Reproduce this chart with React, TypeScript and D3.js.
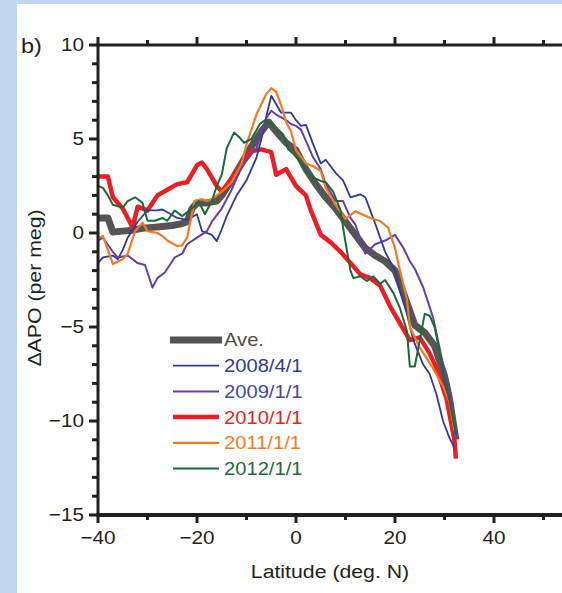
import * as React from "react";
import * as d3 from "d3";

// latitude (deg N), delta APO (per meg)
const ave: [number, number][] = [
  [-40, 0.8], [-38, 0.8], [-37, 0.05], [-35, 0.1], [-33, 0.15], [-31, 0.25], [-29, 0.3],
  [-27, 0.35], [-25, 0.4], [-23, 0.5], [-22, 0.6], [-21, 1.3], [-20, 1.6], [-18, 1.6],
  [-16, 1.7], [-15, 2.0], [-13, 2.8], [-11, 3.7], [-9, 4.6], [-7, 5.4], [-5.5, 5.9],
  [-4, 5.4], [-2, 4.8], [0, 4.4], [2, 3.4], [4, 2.6], [6, 1.9], [8, 1.3], [10, 0.6],
  [12, -0.1], [14, -0.8], [16, -1.2], [18, -1.5], [20, -2.0], [22, -3.4], [24, -4.9],
  [26, -5.3], [28, -6.0], [30, -7.6], [31, -8.8], [32.3, -11.0],
];

const y2008: [number, number][] = [
  [-40, -1.6], [-39, -1.3], [-37, -1.2], [-36, -1.4], [-35, -0.9], [-34, -0.25], [-32, 0.6],
  [-30, 1.2], [-28, 1.2], [-27, 1.25], [-26, 1.1], [-24, 0.8], [-22, 0.7], [-20, 1.0],
  [-19, 0.1], [-17, -0.1], [-16, -0.43], [-15, 0.2], [-14, 0.9], [-12, 2.0], [-10, 2.8],
  [-8, 4.0], [-7, 5.0], [-6, 6.2], [-5, 7.3], [-4, 6.85], [-3, 6.4], [-1, 6.4], [0, 6.0],
  [1, 5.7], [2, 5.75], [3.5, 4.7], [5, 3.7], [6, 3.9], [8, 3.2], [9.5, 2.8], [11, 1.9],
  [13, 2.06], [14, 1.9], [15, 1.2], [16, 0.5], [18, -1.0], [20, -2.0], [21, -3.1],
  [22.4, -4.3], [23.7, -5.7], [25.7, -7.0], [27, -7.5], [28.4, -8.6], [29.7, -10.0],
  [31, -10.9], [32, -11.4],
];

const y2009: [number, number][] = [
  [-40, -0.4], [-39, -0.25], [-37, -1.0], [-36, -1.3], [-34, -1.2], [-32, -1.6], [-30.5, -1.7],
  [-29, -2.9], [-28, -2.4], [-26.5, -2.1], [-24.5, -1.3], [-23, -1.1], [-22, -0.6],
  [-20, -0.25], [-19, -0.07], [-18, 0.1], [-17, 0.6], [-15, 1.3], [-13, 2.3], [-11, 3.5],
  [-9, 4.2], [-8, 4.5], [-6, 6.1], [-5, 6.5], [-4, 6.3], [-2, 6.0], [-1, 5.8], [0, 5.7],
  [1, 5.5], [2, 4.9], [3.5, 4.0], [5, 3.4], [6, 2.6], [8, 1.7], [9.5, 1.7], [11, 0.8],
  [12, 0.45], [14, -1.1], [16, -0.6], [18, -0.4], [20, -0.1], [21.7, -0.8], [23, -1.5],
  [24, -1.9], [25.7, -2.9], [27.7, -4.5], [29, -6.1], [30.4, -7.9], [31.5, -8.9], [32, -10.9],
];

const y2010: [number, number][] = [
  [-40, 3.0], [-38, 3.0], [-37, 1.9], [-35, 1.3], [-33, 0.3], [-32, 1.4], [-30, 1.2],
  [-28, 2.0], [-26, 2.3], [-24, 2.6], [-22, 2.7], [-20, 3.6], [-19, 3.75], [-18, 3.4],
  [-16, 2.5], [-15, 2.2], [-13, 2.9], [-11, 3.7], [-9, 4.35], [-7, 4.45], [-5, 4.3],
  [-4, 3.1], [-2, 3.4], [0, 2.5], [2, 2.0], [3, 1.2], [5, -0.1], [7, -0.5], [9, -1.0],
  [11, -1.6], [13, -2.2], [15, -2.4], [17, -2.8], [19, -3.9], [21, -4.8], [23, -5.7],
  [25, -5.55], [27, -6.4], [28.4, -7.2], [30.4, -8.8], [32, -11.0], [32.3, -12.0],
];

const y2011: [number, number][] = [
  [-40, -0.3], [-39, -0.16], [-37, -1.65], [-35, -1.4], [-34, -1.1], [-32.5, 0.1], [-31, 0.55],
  [-30, 0.1], [-28, 0.0], [-27, -0.16], [-26, -0.4], [-24, -0.7], [-23, -0.65], [-22, -0.25],
  [-20.5, 1.7], [-19, 1.8], [-18, 1.7], [-17, 1.8], [-15, 2.2], [-13, 2.7], [-11, 3.7],
  [-10, 4.7], [-8, 6.3], [-6, 7.4], [-5, 7.7], [-4, 7.5], [-3, 6.8], [-2, 5.9], [-1, 5.4],
  [0, 4.4], [2, 3.7], [3.5, 3.55], [5, 3.3], [6, 2.4], [8, 1.5], [10, 0.75], [12, 1.15],
  [15, 0.8], [17, 0.64], [18.6, 0.28], [20, -0.8], [21, -2.0], [22.4, -3.5], [23, -5.0],
  [25, -6.1], [27.7, -7.2], [29.8, -8.2], [31, -9.0], [32, -10.5],
];

const y2012: [number, number][] = [
  [-40, 2.5], [-39, 2.4], [-38, 2.0], [-37, 1.5], [-35, 1.35], [-34, 1.7], [-32.5, 1.9],
  [-31, 1.6], [-30, 0.65], [-28.5, 0.65], [-27, 0.8], [-26, 0.65], [-24.5, 1.2], [-23, 0.9],
  [-21, 1.3], [-19.7, 1.7], [-18.4, 1.0], [-17, 1.7], [-16, 2.5], [-15, 3.1], [-14, 4.5],
  [-12.5, 5.35], [-11.3, 5.05], [-10.5, 4.8], [-9, 5.0], [-7.3, 5.8], [-6.3, 6.0], [-5, 5.8],
  [-4, 5.6], [-2.6, 5.25], [-1.6, 4.45], [-0.5, 4.2], [1, 3.75], [2.2, 3.2], [3.5, 2.94],
  [5, 2.77], [6, 2.7], [7.5, 2.2], [9, 1.2], [9.5, 0.3], [10.2, -0.8], [11, -2.0], [11.6, -2.4],
  [13, -2.3], [14.3, -2.55], [15.6, -2.3], [17, -2.7], [18, -2.5], [19.7, -3.2], [21, -4.0],
  [22.4, -5.2], [23, -7.1], [24, -7.1], [25, -5.7], [26, -4.3], [27, -4.4], [28, -5.0],
  [29, -6.3], [30, -7.9], [31, -8.9], [32.3, -10.7],
];

const seriesNames = ["Ave.", "2008/4/1", "2009/1/1", "2010/1/1", "2011/1/1", "2012/1/1"];
const seriesData = [ave, y2008, y2009, y2010, y2011, y2012];
const lineColors = ["#555555", "#2e3b9c", "#6540a3", "#ee1d25", "#f47a22", "#1c6b34"];
const textColors = ["#4d4d4d", "#2e3b9c", "#3c4ba8", "#ee1d25", "#f47a22", "#1c6b34"];
const lineWidths = [7, 1.8, 2, 4.5, 2.2, 2];
const drawOrder = [0, 3, 1, 2, 4, 5];

const xTickLabels = [-40, -20, 0, 20, 40];
const yTickLabels = [10, 5, 0, -5, -10, -15];

const fmt = (v: number) => (v < 0 ? "\u2212" + Math.abs(v) : String(v));

// the lettering in the figure is a little wider than it is tall
const STRETCH = 1.12;

const Label = ({ x, y, size, fill, anchor = "start", rotate = 0, dy, children }: any) => (
  <text
    transform={`translate(${x},${y}) rotate(${rotate}) scale(${STRETCH},1)`}
    fontSize={size}
    fill={fill}
    textAnchor={anchor}
    dy={dy}
  >
    {children}
  </text>
);

export default function App() {
  const width = 562;
  const height = 593;
  const x = d3.scaleLinear().domain([-40, 60]).range([98, 593]);
  const y = d3.scaleLinear().domain([-15, 10]).range([515, 45]);
  const line = d3
    .line<[number, number]>()
    .x(d => x(d[0]))
    .y(d => y(d[1]));

  const xTicks = d3.range(-40, 61, 10);
  const yTicks = d3.range(-15, 11, 1);
  const font = "'Liberation Sans', Arial, Helvetica, sans-serif";
  const ink = "#231f20";

  return (
    <svg
      width={width}
      height={height}
      style={{ position: "absolute", left: 0, top: 0, display: "block" }}
      fontFamily={font}
    >
      <rect width={width} height={height} fill="#bfd8ee" />
      <rect x={17} y={4} width={width - 17} height={height - 4} fill="#ffffff" />

      {drawOrder.map(i => (
        <path
          key={seriesNames[i]}
          d={line(seriesData[i]) || ""}
          fill="none"
          stroke={lineColors[i]}
          strokeWidth={lineWidths[i]}
          strokeLinejoin="round"
        />
      ))}

      {/* axes */}
      <g stroke={ink} strokeWidth={3}>
        <line x1={x(-40)} x2={x(-40)} y1={y(10) - 1.5} y2={y(-15) + 1.5} />
        <line x1={x(-40) - 1.5} x2={width} y1={y(10)} y2={y(10)} />
        <line x1={x(-40) - 1.5} x2={width} y1={y(-15)} y2={y(-15)} strokeWidth={4} />
        {xTicks.map(t => {
          const major = t % 20 === 0;
          return (
            <g key={"xt" + t}>
              <line x1={x(t)} x2={x(t)} y1={y(10)} y2={y(10) - (major ? 8 : 5)} />
              <line x1={x(t)} x2={x(t)} y1={y(-15)} y2={y(-15) + (major ? 8 : 5)} />
            </g>
          );
        })}
        {yTicks.map(t => {
          const major = t % 5 === 0;
          return (
            <line
              key={"yt" + t}
              x1={x(-40)}
              x2={x(-40) - (major ? 9 : 6)}
              y1={y(t)}
              y2={y(t)}
            />
          );
        })}
      </g>

      {xTickLabels.map(t => (
        <Label key={"xl" + t} x={x(t)} y={544} size={18.5} fill={ink} anchor="middle">
          {fmt(t)}
        </Label>
      ))}
      {yTickLabels.map(t => (
        <Label key={"yl" + t} x={84} y={y(t)} dy="0.35em" size={18.5} fill={ink} anchor="end">
          {fmt(t)}
        </Label>
      ))}
      <Label x={21} y={53} size={21} fill={ink}>
        b)
      </Label>

      <Label x={330} y={578} size={19} fill={ink} anchor="middle">
        Latitude (deg. N)
      </Label>
      <Label x={41} y={288} size={19} fill={ink} anchor="middle" rotate={-90}>
        ΔAPO (per meg)
      </Label>

      {/* legend */}
      <g>
        {seriesNames.map((name, i) => {
          const ly = 340 + i * 25.7;
          return (
            <g key={"lg" + name}>
              <line
                x1={i === 0 ? 170 : 173}
                x2={i === 0 ? 222 : 219}
                y1={ly}
                y2={ly}
                stroke={lineColors[i]}
                strokeWidth={lineWidths[i]}
              />
              <Label x={224} y={ly} dy="0.36em" size={18} fill={textColors[i]}>
                {name}
              </Label>
            </g>
          );
        })}
      </g>
    </svg>
  );
}
